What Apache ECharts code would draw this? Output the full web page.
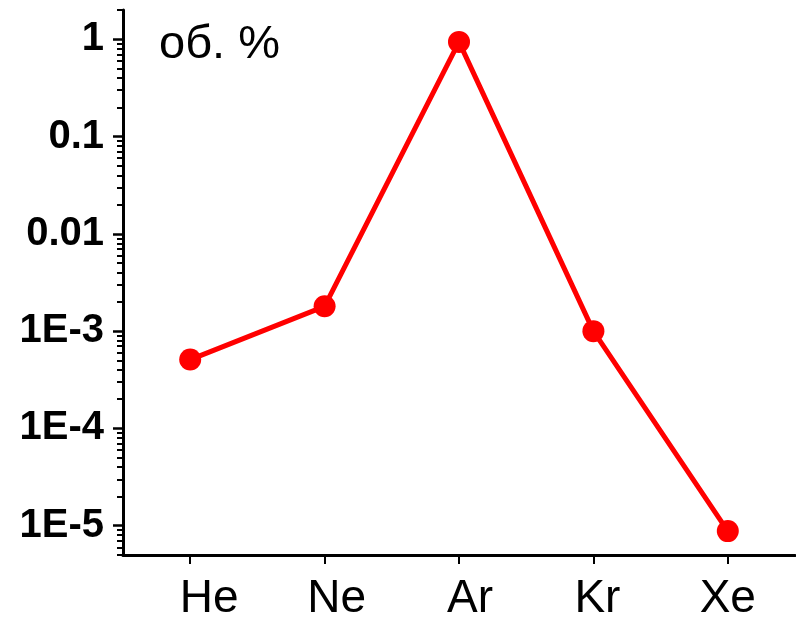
<!DOCTYPE html>
<html>
<head>
<meta charset="utf-8">
<script src="https://cdn.jsdelivr.net/npm/echarts@6/dist/echarts.min.js"></script>
<style>html,body{margin:0;padding:0;background:#fff;}#c{width:796px;height:617px;}</style>
</head>
<body>
<div id="c"></div>
<script>
const categories = ['He', 'Ne', 'Ar', 'Kr', 'Xe'];
const values = [5.1e-4, 1.8e-3, 0.94, 1.0e-3, 8.8e-6];
const majorTicks = [1e-5, 1e-4, 1e-3, 0.01, 0.1, 1];
const majorLabels = ['1E-5', '1E-4', '1E-3', '0.01', '0.1', '1'];
const unitText = 'об. %';

const yMin = 5e-6, yMax = 2;
const minorTicks = [];
for (let e = -6; e <= 0; e++) {
  for (let k = 2; k <= 9; k++) {
    const v = parseFloat((k * Math.pow(10, e)).toPrecision(6));
    if (v >= yMin && v <= yMax) minorTicks.push(v);
  }
}
function labelFor(v) {
  for (let i = 0; i < majorTicks.length; i++) {
    if (Math.abs(Math.log10(v) - Math.log10(majorTicks[i])) < 1e-6) return majorLabels[i];
  }
  return '';
}
// per-label horizontal nudges (left padding = 2 x shift) to mimic the original label placement
const labelPad = [38, 24, 22, 8, 0];
const richStyles = {};
labelPad.forEach(function (p, i) {
  richStyles['p' + i] = { padding: [0, 0, 0, p], fontSize: 46, color: '#000', fontFamily: 'Liberation Sans, Arial, sans-serif' };
});

const chart = echarts.init(document.getElementById('c'));
chart.setOption({
  animation: false,
  backgroundColor: '#fff',
  title: {
    text: unitText, left: 159, top: 22, padding: 0,
    textStyle: { fontFamily: 'Liberation Sans, Arial, sans-serif', fontSize: 47, fontWeight: 'normal', color: '#000' }
  },
  grid: { left: 123, right: 1, top: 10, bottom: 62, containLabel: false, outerBoundsMode: 'none' },
  xAxis: {
    type: 'category', data: categories, boundaryGap: true,
    axisLine: { show: true, lineStyle: { color: '#000', width: 3 } },
    axisTick: { show: true, alignWithLabel: true, interval: 0, length: 9, lineStyle: { color: '#000', width: 2 } },
    axisLabel: {
      interval: 0, hideOverlap: false,
      margin: 21, color: '#000', fontSize: 46, fontFamily: 'Liberation Sans, Arial, sans-serif',
      formatter: function (v, i) { return '{p' + i + '|' + v + '}'; },
      rich: richStyles
    },
    splitLine: { show: false }
  },
  yAxis: [
    {
      type: 'log', logBase: 10, min: yMin, max: yMax, position: 'left',
      axisLine: { show: true, lineStyle: { color: '#000', width: 3 } },
      axisTick: { show: true, customValues: majorTicks, length: 10, lineStyle: { color: '#000', width: 2.5 } },
      axisLabel: { customValues: majorTicks, formatter: labelFor, margin: 19, color: '#000', fontSize: 40, fontWeight: 'bold', fontFamily: 'Liberation Sans, Arial, sans-serif' },
      splitLine: { show: false }, minorTick: { show: false }
    },
    {
      type: 'log', logBase: 10, min: yMin, max: yMax, position: 'left', offset: 0,
      axisLine: { show: false },
      axisTick: { show: true, customValues: minorTicks, length: 6, lineStyle: { color: '#000', width: 2 } },
      axisLabel: { show: false },
      splitLine: { show: false }
    }
  ],
  series: [{
    type: 'line', data: values, yAxisIndex: 0,
    symbol: 'circle', symbolSize: 22,
    lineStyle: { color: '#ff0000', width: 5 },
    itemStyle: { color: '#ff0000' }
  }]
});
</script>
</body>
</html>
